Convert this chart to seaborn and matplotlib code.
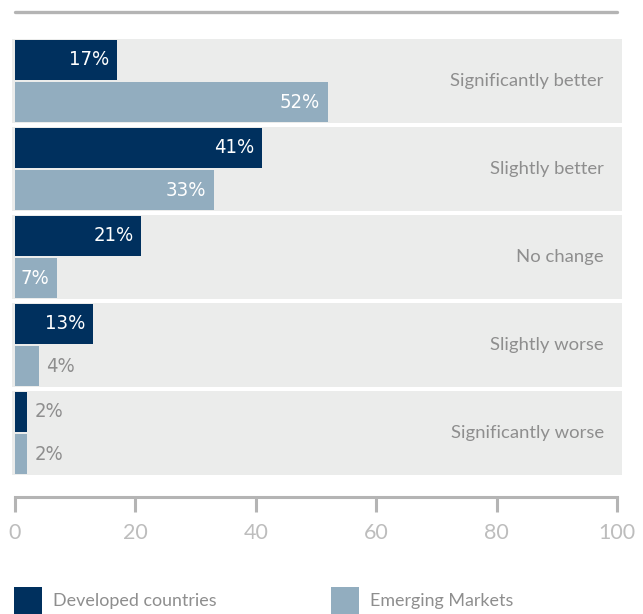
import matplotlib
matplotlib.use("Agg")
import matplotlib.pyplot as plt
import matplotlib.transforms as mtransforms
from matplotlib.patches import Rectangle
import seaborn as sns
import pandas as pd

categories = ["Significantly better", "Slightly better", "No change", "Slightly worse", "Significantly worse"]
series_names = ["Developed countries", "Emerging Markets"]
developed = [17, 41, 21, 13, 2]
emerging = [52, 33, 7, 4, 2]
x_ticks = [0, 20, 40, 60, 80, 100]

colors = {"Developed countries": "#00305e", "Emerging Markets": "#92adbf"}
band_color = "#ebeceb"
text_gray = "#8e8e8e"
axis_gray = "#b4b4b4"

rows = []
for c, d, e in zip(categories, developed, emerging):
    rows.append({"category": c, "series": series_names[0], "value": d})
    rows.append({"category": c, "series": series_names[1], "value": e})
df = pd.DataFrame(rows)

sns.set_theme(style="white")
plt.rcParams["font.family"] = ["Lato", "DejaVu Sans"]

W, H = 643, 614
fig = plt.figure(figsize=(W / 100, H / 100), dpi=100)
ax_l, ax_r = 15, 617
ax_t, ax_b = 35, 480
ax = fig.add_axes([ax_l / W, 1 - ax_b / H, (ax_r - ax_l) / W, (ax_b - ax_t) / H])

ymin = (ax_t - 81) / 88
ymax = (ax_b - 81) / 88

trans = mtransforms.blended_transform_factory(ax.transAxes, ax.transData)
for i in range(len(categories)):
    ax.add_patch(Rectangle((-3 / 602, i - 0.478), 1 + 8 / 602, 0.956,
                           transform=trans, color=band_color, zorder=0,
                           clip_on=False, lw=0))

sns.barplot(data=df, y="category", x="value", hue="series", orient="h",
            palette=colors, width=0.955, gap=0.05, saturation=1,
            linewidth=0, edgecolor="none",
            ax=ax, legend=False, zorder=2)

ax.set_xlim(0, 100)
ax.set_ylim(ymax, ymin)
ax.set_xlabel("")
ax.set_ylabel("")
ax.set_yticks([])
ax.set_xticks(x_ticks)
ax.set_xticklabels([str(t) for t in x_ticks])
ax.tick_params(axis="x", bottom=True, colors=axis_gray, direction="out", length=11,
               width=2.2, labelsize=15.5, pad=8, labelcolor="#bdbdbd")
for lab in ax.get_xticklabels():
    lab.set_fontfamily(["Lato", "DejaVu Sans"])
    lab.set_fontweight("light")
for s in ["top", "left", "right"]:
    ax.spines[s].set_visible(False)
ax.spines["bottom"].set_position(("outward", 17 * 0.72))
ax.spines["bottom"].set_color(axis_gray)
ax.spines["bottom"].set_linewidth(2.2)
ax.set_facecolor("none")

cond = ["DejaVu Sans"]
for cont in ax.containers:
    for bar in cont:
        v = bar.get_width()
        yc = bar.get_y() + bar.get_height() / 2
        if v >= 6:
            ax.text(v - 1.3, yc, f"{v:.0f}%", ha="right", va="center",
                    color="white", fontsize=14.5, family=cond, stretch="condensed",
                    zorder=3)
        else:
            ax.text(v + 1.2, yc, f"{v:.0f}%", ha="left", va="center",
                    color=text_gray, fontsize=14.5, family=cond, stretch="condensed",
                    zorder=3)

for i, c in enumerate(categories):
    ax.text(97.8, i, c, ha="right", va="center", color=text_gray, fontsize=13.3)

fig.add_artist(plt.Line2D([15 / W, 617 / W], [1 - 12 / H, 1 - 12 / H],
                          color=axis_gray, lw=2.4))

for x0, name in [(14, series_names[0]), (331, series_names[1])]:
    fig.add_artist(Rectangle((x0 / W, 1 - 616 / H), 28 / W, 29 / H,
                             transform=fig.transFigure, color=colors[name], lw=0))
    fig.text((x0 + 39) / W, 1 - 601 / H, name, ha="left", va="center",
             color=text_gray, fontsize=12.9)

fig.savefig("out.png", dpi=100)
